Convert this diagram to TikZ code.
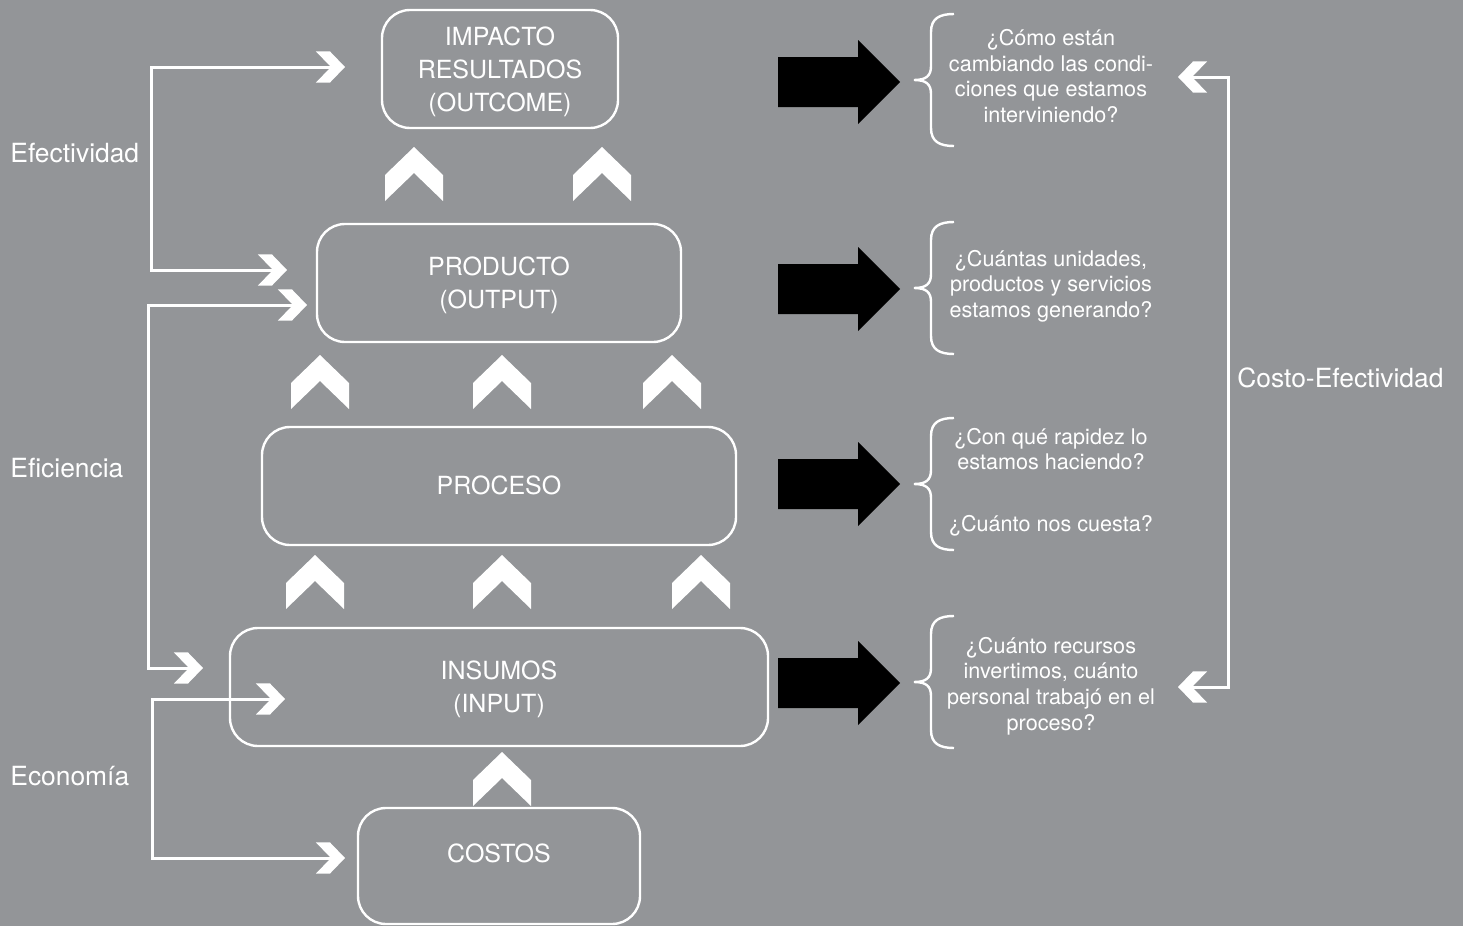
\documentclass[tikz,border=0pt]{standalone}
\usepackage{fontspec}
\setmainfont{TeX Gyre Heros}
\definecolor{fondo}{RGB}{147,149,152}
\tikzset{
  caja/.style={draw=white, line width=1.2pt, rounded corners=14pt, text=white, align=center, inner sep=0pt, text depth=0pt, font=\fontsize{12.5}{16.5}\selectfont},
  etiqueta/.style={text=white, anchor=west, inner sep=0pt, font=\fontsize{13.2}{15}\selectfont},
  pregunta/.style={text=white, align=center, inner sep=0pt, font=\fontsize{10.8}{12.8}\selectfont},
  linea/.style={draw=white, line width=1.5pt, shorten <=5pt, shorten >=5pt},
  chev/.pic={\fill[white] (0,0) -- (29,28) -- (29,54) -- (0,26) -- (-29,54) -- (-29,28) -- cycle;},
  flechanegra/.pic={\fill[black] (0,-25) -- (80,-25) -- (80,-42) -- (122,0) -- (80,42) -- (80,25) -- (0,25) -- cycle;},
  llave/.pic={\draw[white, line width=1.2pt] (40,-66) .. controls (26,-66) and (17,-62) .. (17,-48) -- (17,-14) .. controls (17,-4) and (12,0) .. (0,0) .. controls (12,0) and (17,4) .. (17,14) -- (17,48) .. controls (17,62) and (26,66) .. (40,66);}
}
\begin{document}
\begin{tikzpicture}[x=0.5pt, y=-0.5pt]
\fill[fondo] (0,0) rectangle (1463,926);

% cajas
\node[caja, minimum width=118pt, minimum height=59pt] (impacto) at (500,69) {IMPACTO\\RESULTADOS\\(OUTCOME)};
\node[caja, minimum width=182pt, minimum height=59pt] (producto) at (499,283) {PRODUCTO\\(OUTPUT)};
\node[caja, minimum width=237pt, minimum height=59pt, text depth=1pt] (proceso) at (499,486) {PROCESO};
\node[caja, minimum width=269pt, minimum height=59pt, text depth=-2.5pt] (insumos) at (499,687) {INSUMOS\\(INPUT)};
\node[caja, minimum width=141pt, minimum height=58pt, text depth=13pt] (costos) at (499,866) {COSTOS};

% flechas hacia arriba
\foreach \x/\y in {414/147, 602/147, 320/355, 502/355, 672/355, 315/555, 502/555, 701/555, 502/752}
  \pic at (\x,\y) {chev};

% flechas negras y llaves
\foreach \y in {82,289,484,683}
  \pic at (778,\y) {flechanegra};
\foreach \y in {80,288,484,682}
  \pic at (914,\y) {llave};

% preguntas
\node[pregunta] (q1) at (1051,76) {¿Cómo están\\cambiando las condi-\\ciones que estamos\\interviniendo?};
\node[pregunta] (q2) at (1051,286) {¿Cuántas unidades,\\productos y servicios\\estamos generando?};
\node[pregunta] (q3) at (1051,482) {¿Con qué rapidez lo\\estamos haciendo?\\[18pt]¿Cuánto nos cuesta?};
\node[pregunta] (q4) at (1051,686) {¿Cuánto recursos\\invertimos, cuánto\\personal trabajó en el\\proceso?};

% etiquetas
\node[etiqueta] (efectividad) at (10,153) {Efectividad};
\node[etiqueta] (eficiencia) at (10,468) {Eficiencia};
\node[etiqueta] (economia) at (10,776) {Economía};
\node[etiqueta] (costoef) at (1237,378) {Costo-Efectividad};

% conectores
\coordinate (efeA) at (345,67);
\coordinate (efeB) at (287,270);
\coordinate (efiA) at (307,305);
\coordinate (efiB) at (203,668);
\coordinate (ecoA) at (285,699);
\coordinate (ecoB) at (345,858);
\coordinate (ceA) at (1178,77);
\coordinate (ceB) at (1178,687);
\draw[linea] (efeA) -- ++(-194,0) |- (efeB);
\draw[linea] (efiA) -- ++(-159,0) |- (efiB);
\draw[linea] (ecoA) -- ++(-133,0) |- (ecoB);
\draw[linea] (ceA) -- ++(50,0) |- (ceB);
\foreach \c in {efeA,efeB,efiA,efiB,ecoA,ecoB}
  \pic[rotate=-90, scale=0.54] at (\c) {chev};
\foreach \c in {ceA,ceB}
  \pic[rotate=90, scale=0.54] at (\c) {chev};
\end{tikzpicture}
\end{document}
